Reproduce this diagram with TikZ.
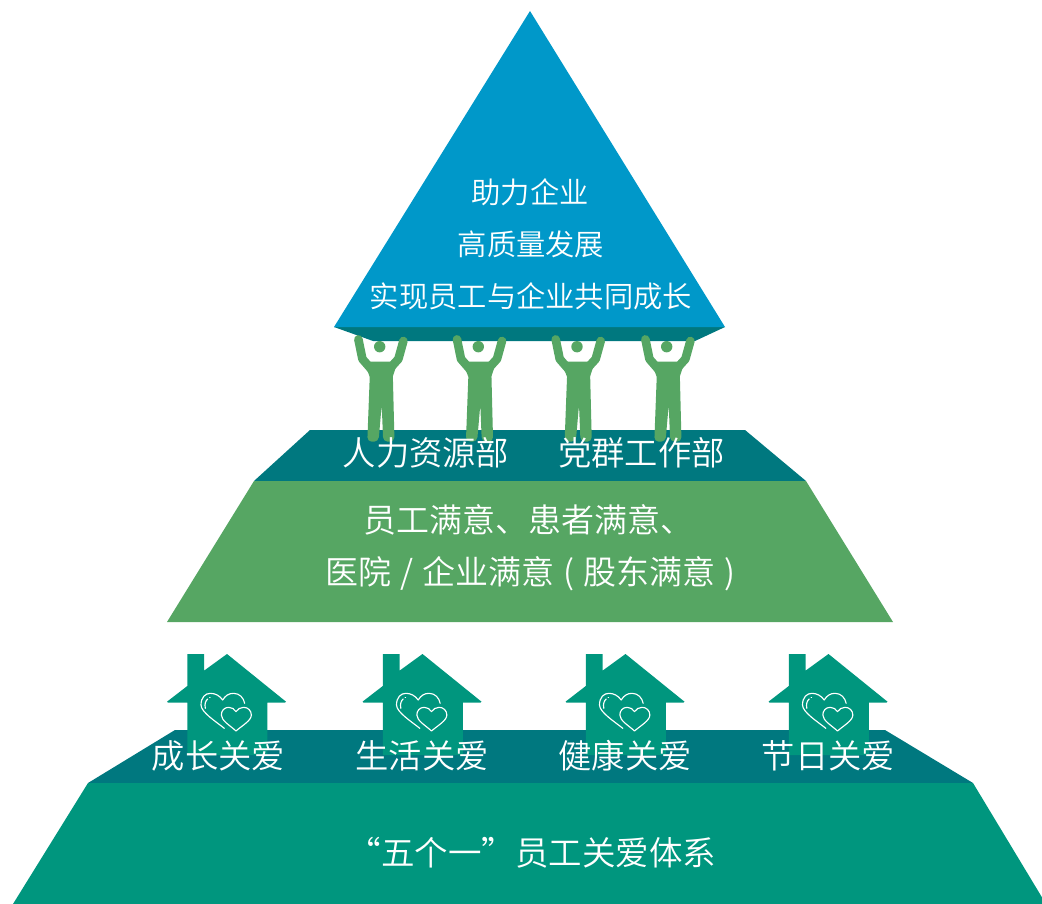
\documentclass[tikz,border=0pt]{standalone}
\usepackage{fontspec}
\newfontfamily\cjk[UprightFont={* DemiLight}]{Noto Sans CJK SC}
\definecolor{cblue}{HTML}{0098C9}
\definecolor{cdark}{HTML}{00787F}
\definecolor{cgreen}{HTML}{56A663}
\definecolor{cteal}{HTML}{00967E}
\tikzset{
  px/.style={x=1pt,y=-1pt},
  lbl/.style={text=white,inner sep=0pt,font=\cjk\fontsize{#1}{#1}\selectfont},
  lbl/.default=33.3,
  person/.pic={
    \fill[cgreen] (0,0) circle (5.7);
    \draw[cgreen,line width=8.6pt,line cap=round,line join=round] (-21.3,-7.3) -- (-17.3,12.3) -- (-8,23);
    \draw[cgreen,line width=8.6pt,line cap=round,line join=round] (23.7,-5.7) -- (18.7,12.3) -- (9,23);
    \fill[cgreen] (-17,12) -- (-11,15) -- (13,15) -- (19,12) -- (13,30) -- (-10,30) -- cycle;
    \fill[cgreen,rounded corners=4.5pt] (-9.7,23) -- (-12.4,95) -- (-1.2,95) -- (2,58) -- (3.5,95) -- (14.8,95) -- (13,23) -- cycle;
  },
  house/.pic={
    \fill[cteal] (0,0) -- (59,47.7) -- (58,48.7) -- (40.3,48.7) -- (40.3,101) -- (-39.7,101) -- (-39.7,48.7) -- (-59,48.7) -- (-60,47.7) -- (-39.7,32) -- (-39.7,0) -- (-23,0) -- (-23,16.7) -- cycle;
    \begin{scope}[x=0.3333pt,y=-0.3333pt,white,line width=1.15pt,line cap=round,line join=round]
      \draw (-8,223) .. controls (-30,205) and (-78,175) .. (-78,153) .. controls (-78,130) and (-65,118) .. (-50,118) .. controls (-35,118) and (-22,125) .. (-13,138) .. controls (-5,125) and (5,118) .. (20,118) .. controls (38,118) and (50,132) .. (53,148);
      \draw (27,231) .. controls (10,215) and (-17,200) .. (-17,183) .. controls (-17,170) and (-8,160) .. (5,160) .. controls (15,160) and (22,165) .. (27,173) .. controls (32,165) and (40,160) .. (50,160) .. controls (63,160) and (73,170) .. (73,183) .. controls (73,200) and (45,215) .. (27,231) -- cycle;
      \draw (-65,163) .. controls (-68,150) and (-64,140) .. (-58,135);
      \draw (-52,130) -- (-51,130);
    \end{scope}
  }
}
\begin{document}
\begin{tikzpicture}[px]
\useasboundingbox (0,0) rectangle (1042,904);
% top
\fill[cdark] (334,327) -- (373,341) -- (695,341) -- (725,327) -- cycle;
\fill[cblue] (530,11) -- (725,327) -- (334,327) -- cycle;
% middle
\fill[cdark] (310,430) -- (745,430) -- (806,481) -- (254,481) -- cycle;
\fill[cgreen] (254,481) -- (806,481) -- (893,622) -- (167,622) -- cycle;
% bottom
\fill[cdark] (175,730) -- (885,730) -- (973,783) -- (88,783) -- cycle;
\fill[cteal] (88,783) -- (973,783) -- (1046,904) -- (13,904) -- cycle;
% people
\foreach \px in {379.7,478.3,577,666.7} \pic at (\px,346.7) {person};
% houses
\foreach \hx in {227,422.5,625.5,828.5} \pic at (\hx,654) {house};
% text
\node[lbl=29.3] (t1) at (530,192) {助力企业};
\node[lbl=29.3] (t2) at (531,244) {高质量发展};
\node[lbl=29.3] (t3) at (531,296) {实现员工与企业共同成长};
\node[lbl] (m1) at (426,453) {人力资源部};
\node[lbl] (m2) at (641.5,453) {党群工作部};
\node[lbl=33] (g1) at (528.5,520) {员工满意、患者满意、};
\node[lbl=33] (g2) at (530.5,573.5) {\spaceskip=9.2pt 医院 / 企业满意 ( 股东满意 )};
\node[lbl] (h1) at (218.5,756) {成长关爱};
\node[lbl] (h2) at (422,756) {生活关爱};
\node[lbl] (h3) at (625,756) {健康关爱};
\node[lbl] (h4) at (828.5,756) {节日关爱};
\node[lbl=33.5] (b1) at (532,853) {“五个一”员工关爱体系};
\end{tikzpicture}
\end{document}
